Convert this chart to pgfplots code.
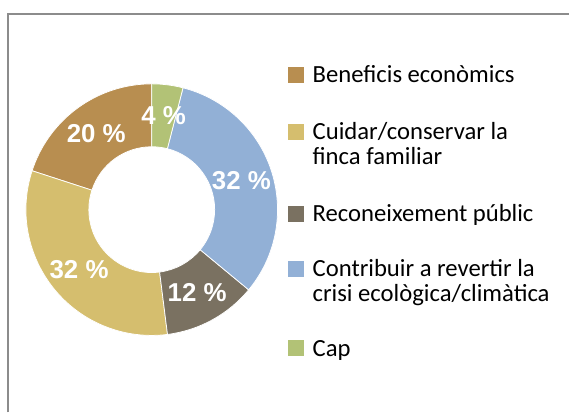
\documentclass[border=0pt]{standalone}
\usepackage{fontspec}
\setmainfont{Carlito}
\newfontfamily\lsans{Liberation Sans}
\usepackage{pgfplots}
\usepackage{pgfplotstable}
\pgfplotsset{compat=1.18}
\definecolor{cBen}{HTML}{B88E50}
\definecolor{cCui}{HTML}{D5BE6E}
\definecolor{cRec}{HTML}{7A7161}
\definecolor{cCon}{HTML}{92B0D6}
\definecolor{cCap}{HTML}{B2C276}
\definecolor{frame}{HTML}{8C8C8C}
\newcommand\donutlabel[1]{{\fontsize{26}{30}\selectfont\lsans\bfseries #1 \%}}
\newcommand\legfont{\fontsize{24.8}{26}\selectfont}

\pgfplotstableread{
value col
20 cBen
32 cCui
12 cRec
32 cCon
4 cCap
}\donutdata

\begin{document}
\begin{tikzpicture}
\begin{axis}[
  scale only axis, width=570bp, height=413bp,
  xmin=0, xmax=570, ymin=0, ymax=413,
  hide axis, clip=false,
]
\path (axis cs:0,0) rectangle (axis cs:570,413);
% frame
\draw[frame, line width=2bp] (axis cs:8,0) -- (axis cs:8,399) -- (axis cs:570,399);
% donut
\pgfplotstablegetrowsof{\donutdata}
\pgfmathtruncatemacro\nrows{\pgfplotsretval-1}
\def\cum{0}
\pgfplotsforeachungrouped \i in {0,...,\nrows}{%
  \pgfplotstablegetelem{\i}{value}\of\donutdata \let\val\pgfplotsretval
  \pgfplotstablegetelem{\i}{col}\of\donutdata \let\col\pgfplotsretval
  \pgfmathsetmacro\aone{90+3.6*\cum}%
  \pgfmathsetmacro\atwo{90+3.6*(\cum+\val)}%
  \pgfmathsetmacro\amid{(\aone+\atwo)/2}%
  \edef\temp{\noexpand\fill[\col, draw=white, line width=0.75bp] (axis cs:152,203) ++(\aone:126bp) arc[start angle=\aone, end angle=\atwo, radius=126bp] -- ++(\atwo+180:63bp) arc[start angle=\atwo, end angle=\aone, radius=63bp] -- cycle;
  \noexpand\node[text=white, inner sep=0pt] at ([shift={(\amid:94.5bp)}]axis cs:152,203) {\noexpand\donutlabel{\val}};}%
  \temp
  \pgfmathsetmacro\cum{\cum+\val}%
}
% legend
\fill[cBen] (axis cs:289,330) rectangle (axis cs:305,346);
\node[anchor=base west, inner sep=0pt] at (axis cs:313,330) {\legfont Beneficis econòmics};
\fill[cCui] (axis cs:289,273) rectangle (axis cs:305,289);
\node[anchor=base west, inner sep=0pt] at (axis cs:313,273) {\legfont Cuidar/conservar la};
\node[anchor=base west, inner sep=0pt] at (axis cs:313,248) {\legfont finca familiar};
\fill[cRec] (axis cs:289,191) rectangle (axis cs:305,207);
\node[anchor=base west, inner sep=0pt] at (axis cs:313,191) {\legfont Reconeixement públic};
\fill[cCon] (axis cs:289,136) rectangle (axis cs:305,152);
\node[anchor=base west, inner sep=0pt] at (axis cs:313,136) {\legfont Contribuir a revertir la};
\node[anchor=base west, inner sep=0pt] at (axis cs:313,111) {\legfont crisi ecològica/climàtica};
\fill[cCap] (axis cs:289,56) rectangle (axis cs:305,72);
\node[anchor=base west, inner sep=0pt] at (axis cs:313,56) {\legfont Cap};
\end{axis}
\end{tikzpicture}
\end{document}
